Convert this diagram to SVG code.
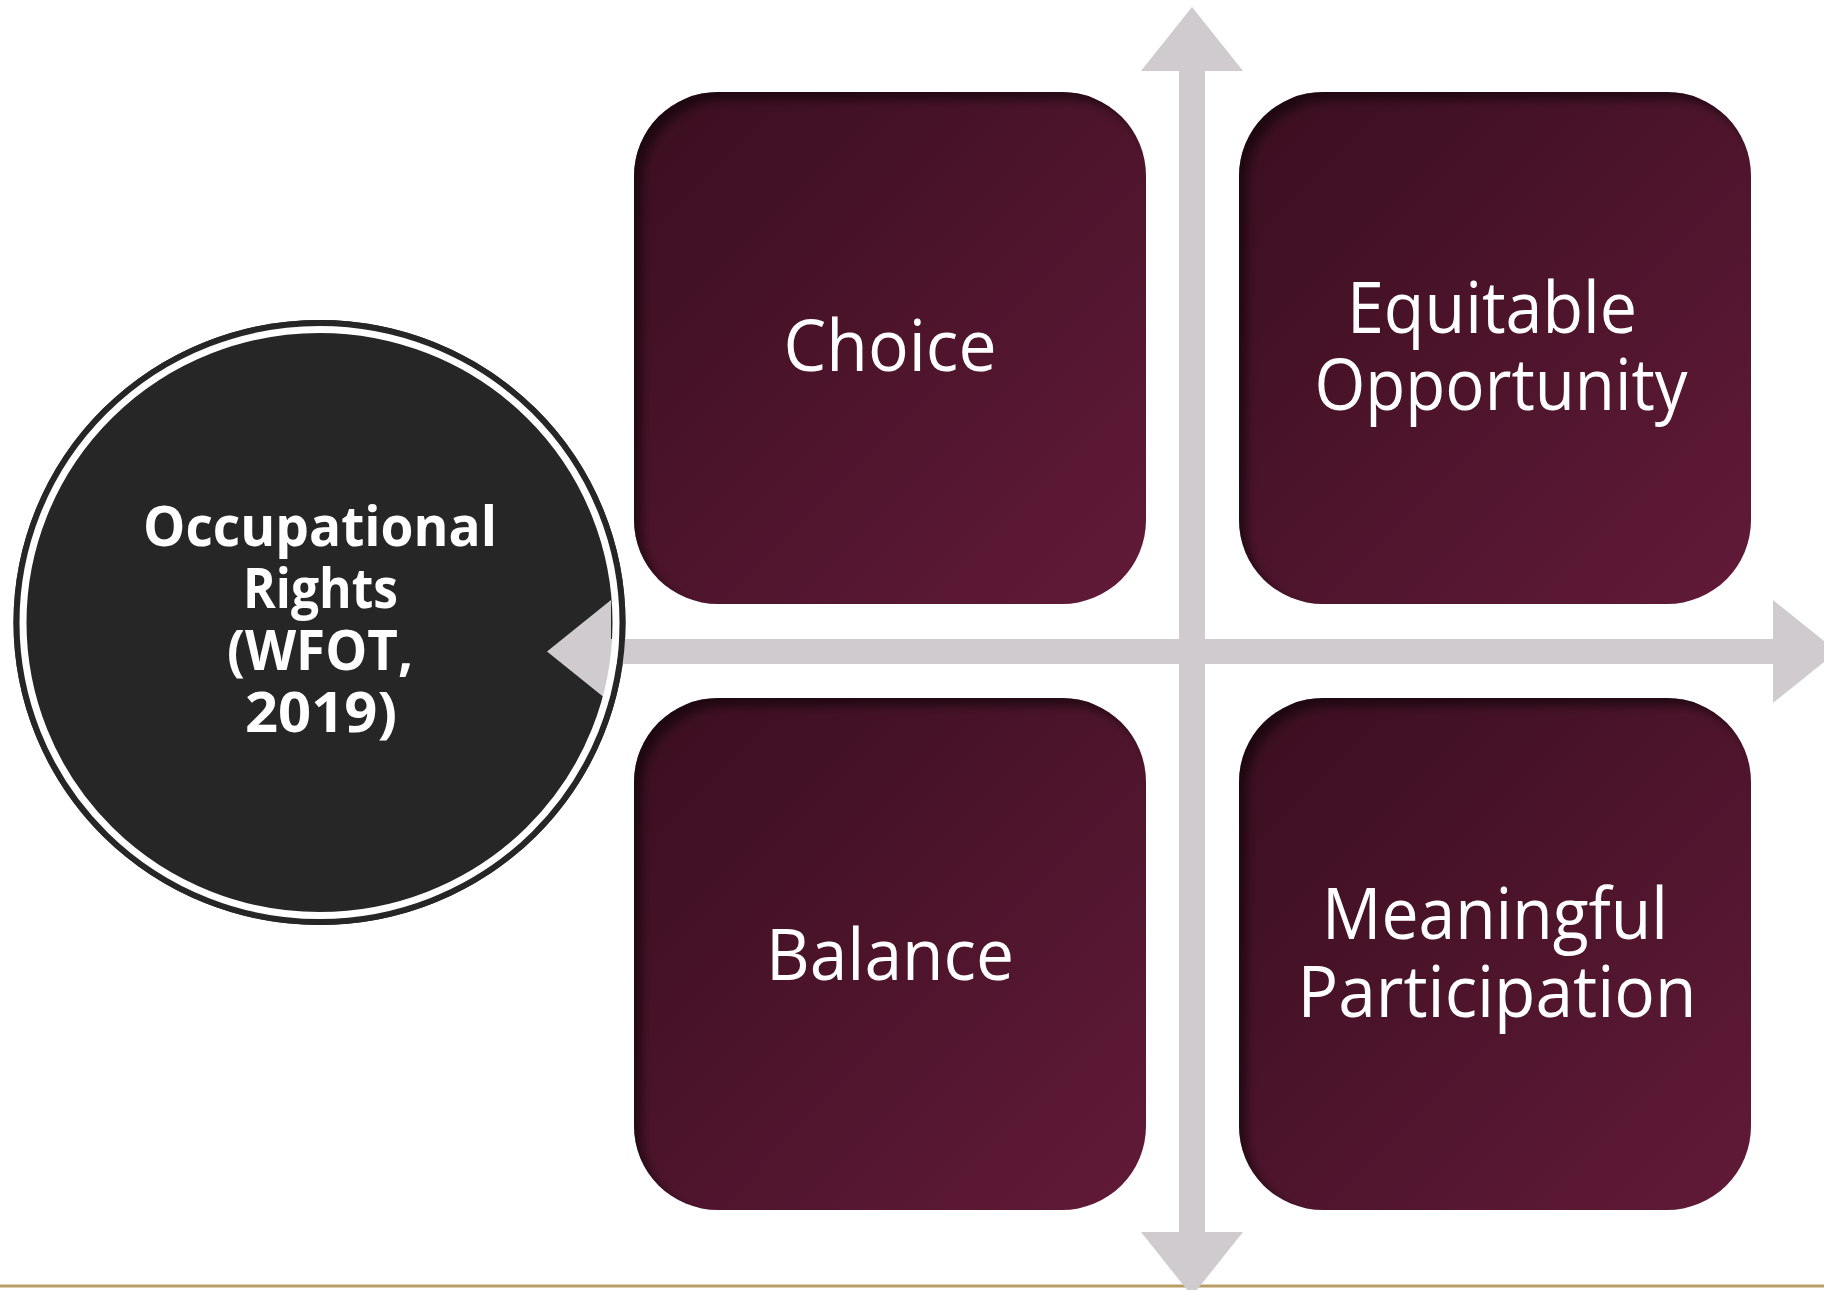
<svg xmlns="http://www.w3.org/2000/svg" xmlns:xlink="http://www.w3.org/1999/xlink" width="1824" height="1290" viewBox="0 0 1824 1290">
  <style>
    .box { fill: url(#boxGrad); }
    .box-label { font-family: "Open Sans", "Liberation Sans", sans-serif; font-size: 72px; fill: #ffffff; text-anchor: middle; }
    .hub-label { font-family: "Open Sans", "Liberation Sans", sans-serif; font-size: 55px; font-weight: bold; fill: #ffffff; text-anchor: middle; }
    .arrow { fill: #d0cbce; }
  </style>
  <defs>
    <linearGradient id="boxGrad" x1="0" y1="0" x2="1" y2="1">
      <stop offset="0" stop-color="#390e1f"/>
      <stop offset="1" stop-color="#611a38"/>
    </linearGradient>
    <filter id="soft" x="-10%" y="-10%" width="120%" height="120%">
      <feGaussianBlur stdDeviation="5"/>
    </filter>
    <clipPath id="boxClip"><rect x="0" y="0" width="512" height="512" rx="84" ry="84"/></clipPath>
    <g id="innerShadow" clip-path="url(#boxClip)">
      <path d="M-60 -60 H572 V572 H-60 Z M92 8 H436 A84 84 0 0 1 520 92 V436 A84 84 0 0 1 436 520 H92 A84 84 0 0 1 8 436 V92 A84 84 0 0 1 92 8 Z" fill-rule="evenodd" fill="#000000" fill-opacity="0.5" filter="url(#soft)"/>
    </g>
  </defs>

  <rect x="0" y="0" width="1824" height="1290" fill="#ffffff"/>
  <rect x="0" y="1284.5" width="1824" height="3" fill="#b89d64"/>

  <!-- quadrant nodes -->
  <g id="node-choice">
    <rect class="box" x="634" y="92" width="512" height="512" rx="84" ry="84"/>
    <use xlink:href="#innerShadow" href="#innerShadow" x="634" y="92"/>
    <text class="box-label" x="890" y="371" textLength="213" lengthAdjust="spacingAndGlyphs">Choice</text>
  </g>
  <g id="node-equitable-opportunity">
    <rect class="box" x="1239" y="92" width="512" height="512" rx="84" ry="84"/>
    <use xlink:href="#innerShadow" href="#innerShadow" x="1239" y="92"/>
    <text class="box-label"><tspan x="1492" y="333" textLength="290" lengthAdjust="spacingAndGlyphs">Equitable</tspan><tspan x="1501" y="410" textLength="373" lengthAdjust="spacingAndGlyphs">Opportunity</tspan></text>
  </g>
  <g id="node-balance">
    <rect class="box" x="634" y="698" width="512" height="512" rx="84" ry="84"/>
    <use xlink:href="#innerShadow" href="#innerShadow" x="634" y="698"/>
    <text class="box-label" x="890" y="980" textLength="248" lengthAdjust="spacingAndGlyphs">Balance</text>
  </g>
  <g id="node-meaningful-participation">
    <rect class="box" x="1239" y="698" width="512" height="512" rx="84" ry="84"/>
    <use xlink:href="#innerShadow" href="#innerShadow" x="1239" y="698"/>
    <text class="box-label"><tspan x="1495" y="939" textLength="346" lengthAdjust="spacingAndGlyphs">Meaningful</tspan><tspan x="1497" y="1017" textLength="399" lengthAdjust="spacingAndGlyphs">Participation</tspan></text>
  </g>

  <!-- hub fill (below arrows) -->
  <g id="node-occupational-rights-fill">
    <ellipse cx="319.5" cy="622.5" rx="306" ry="302.5" fill="#262626"/>
  </g>

  <!-- connectors -->
  <g id="connectors">
    <polygon class="arrow" points="1192,7 1243,71 1205,71 1205,1232 1243,1232 1192,1296 1141,1232 1179,1232 1179,71 1141,71"/>
    <polygon class="arrow" points="547,651.5 611,600 611,639 1773,639 1773,600 1837,651.5 1773,703 1773,664 611,664 611,703"/>
  </g>

  <!-- hub ring and label -->
  <g id="node-occupational-rights">
    <ellipse cx="319.5" cy="622.5" rx="303" ry="299.5" fill="none" stroke="#262626" stroke-width="6"/>
    <ellipse cx="319.5" cy="622.5" rx="296.5" ry="293" fill="none" stroke="#ffffff" stroke-width="7"/>
    <text class="hub-label"><tspan x="320" y="546" textLength="354" lengthAdjust="spacingAndGlyphs">Occupational</tspan><tspan x="320.5" y="608" textLength="155" lengthAdjust="spacingAndGlyphs">Rights</tspan><tspan x="320" y="670" textLength="186" lengthAdjust="spacingAndGlyphs">(WFOT,</tspan><tspan x="321" y="732" textLength="152" lengthAdjust="spacingAndGlyphs">2019)</tspan></text>
  </g>
</svg>
